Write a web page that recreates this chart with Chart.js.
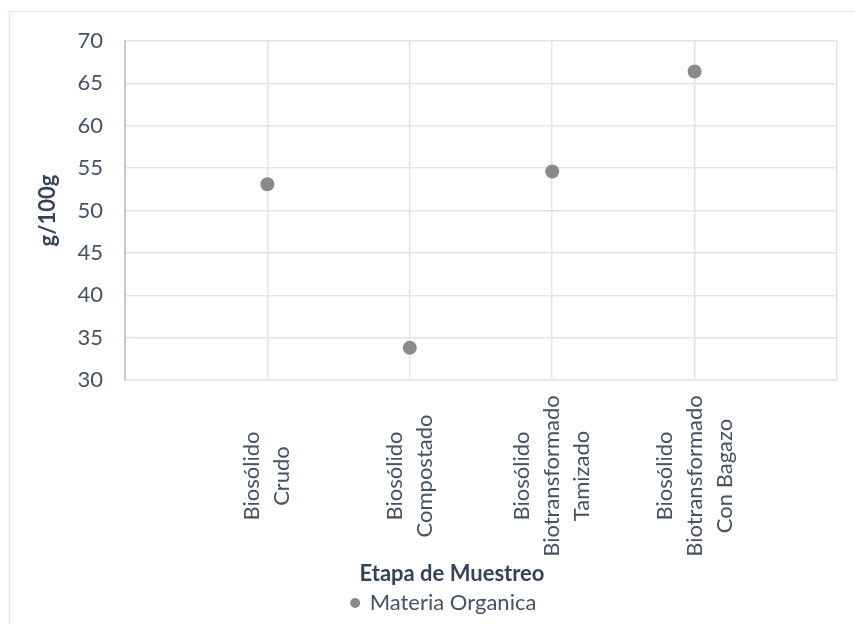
<!DOCTYPE html>
<html>
<head>
<meta charset="utf-8">
<script src="https://cdn.jsdelivr.net/npm/chart.js@4"></script>
<style>
  html, body { margin: 0; padding: 0; background: #ffffff; }
  #wrap { width: 855px; height: 624px; }
</style>
</head>
<body>
<div id="wrap"><canvas id="chart" width="855" height="624"></canvas></div>
<script>
// Sampling stages (each entry is one multi-line axis label)
const categories = [
  ['Biosólido', 'Crudo'],
  ['Biosólido', 'Compostado'],
  ['Biosólido', 'Biotransformado', 'Tamizado'],
  ['Biosólido', 'Biotransformado', 'Con Bagazo']
];
// Organic matter, g/100g
const materiaOrganica = [53.1, 33.8, 54.6, 66.4];
const seriesName = 'Materia Organica';
const yTitle = 'g/100g';
const xTitle = 'Etapa de Muestreo';

const FONT = 'Lato, "Open Sans", sans-serif';
const TEXT = '#465163';
const TITLE = '#36425a';
const GRID = '#dfe4eb';

// Light frame around the whole chart
const framePlugin = {
  id: 'frame',
  beforeDraw(chart) {
    const ctx = chart.ctx;
    ctx.save();
    ctx.fillStyle = '#ffffff';
    ctx.fillRect(0, 0, chart.width, chart.height);
    ctx.strokeStyle = '#e2e6ec';
    ctx.lineWidth = 1.5;
    ctx.strokeRect(9.5, 11.5, chart.width + 20, chart.height + 20);
    ctx.restore();
  }
};

// Vertical, centred multi-line category labels plus the x-axis title
const categoryLabels = {
  id: 'categoryLabels',
  afterLayout(chart) {
    // nudge the legend a little to the right
    chart.legend.left += 10;
    chart.legend.right += 10;
  },
  afterDraw(chart, args, opts) {
    const ctx = chart.ctx;
    const xs = chart.scales.x;
    ctx.save();
    ctx.fillStyle = TEXT;
    ctx.font = opts.labelFont;
    ctx.textAlign = 'center';
    ctx.textBaseline = 'middle';
    categories.forEach((lines, i) => {
      const px = xs.getPixelForValue(i + 1);
      const n = lines.length;
      lines.forEach((line, j) => {
        const cx = px + (j - (n - 1) / 2) * opts.lineGap;
        ctx.save();
        ctx.translate(cx, opts.labelCenterY);
        ctx.rotate(-Math.PI / 2);
        ctx.fillText(line, 0, 0);
        ctx.restore();
      });
    });
    ctx.fillStyle = TITLE;
    ctx.font = opts.titleFont;
    ctx.fillText(xTitle, opts.titleX, opts.titleY);
    ctx.restore();
  }
};

new Chart(document.getElementById('chart'), {
  type: 'scatter',
  data: {
    datasets: [{
      label: seriesName,
      data: materiaOrganica.map((v, i) => ({ x: i + 1, y: v })),
      backgroundColor: '#8a8a8a',
      borderColor: '#8a8a8a',
      borderWidth: 0,
      pointRadius: 7,
      pointHoverRadius: 7,
      showLine: false
    }]
  },
  options: {
    responsive: false,
    animation: false,
    layout: { padding: { left: 31, right: 18, top: 41, bottom: 0 } },
    scales: {
      x: {
        type: 'linear',
        min: 0,
        max: 5,
        ticks: { stepSize: 1, display: false },
        grid: { color: GRID, lineWidth: 1.5, drawTicks: false },
        border: { color: GRID, width: 1.5 },
        afterFit(scale) { scale.height = 204; }
      },
      y: {
        min: 30,
        max: 70,
        ticks: {
          stepSize: 5,
          padding: 22,
          color: TEXT,
          font: { family: FONT, size: 22 }
        },
        grid: { color: GRID, lineWidth: 1.5, drawTicks: false },
        border: { color: '#c3cad5', width: 2 },
        title: {
          display: true,
          text: yTitle,
          color: TITLE,
          font: { family: FONT, size: 22, weight: 'bold' },
          padding: { top: 4, bottom: 4 }
        },
        afterFit(scale) { scale.width = 94; }
      }
    },
    plugins: {
      legend: {
        position: 'bottom',
        labels: {
          usePointStyle: true,
          pointStyle: 'circle',
          boxWidth: 7,
          boxHeight: 7,
          padding: 8,
          color: TEXT,
          font: { family: FONT, size: 22 }
        }
      },
      tooltip: { enabled: false },
      categoryLabels: {
        labelFont: '22px ' + FONT,
        titleFont: 'bold 22px ' + FONT,
        lineGap: 30,
        labelCenterY: 476,
        titleX: 452,
        titleY: 574
      }
    }
  },
  plugins: [framePlugin, categoryLabels]
});
</script>
</body>
</html>
